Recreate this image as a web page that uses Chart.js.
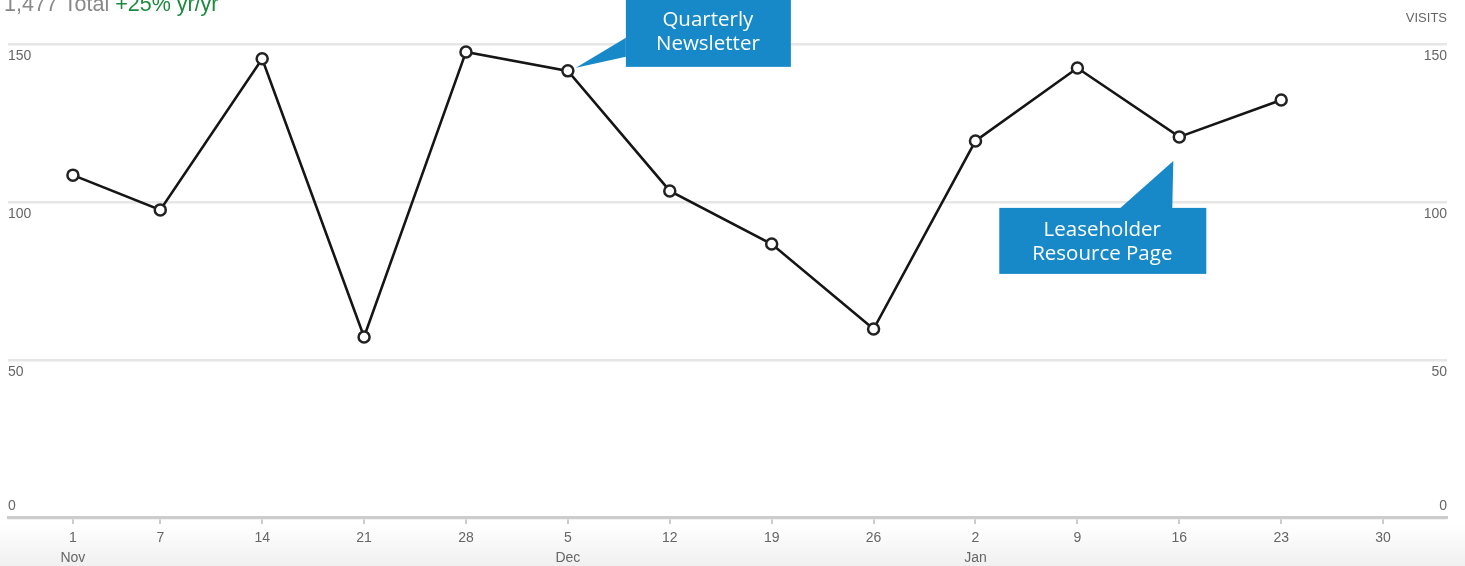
<!DOCTYPE html>
<html>
<head>
<meta charset="utf-8">
<title>Visits</title>
<script src="https://cdn.jsdelivr.net/npm/chart.js@4/dist/chart.umd.min.js"></script>
<style>
  html, body { margin: 0; padding: 0; }
  body {
    width: 1465px; height: 566px; overflow: hidden;
    background: linear-gradient(to bottom, #fff 0, #fff 525px, #f0f0f0 566px);
  }
  canvas { display: block; }
</style>
</head>
<body>
<canvas id="visitsChart" width="1465" height="566"></canvas>
<script>
// data (x = days since 1 Nov)
var dayOffsets = [0, 6, 13, 20, 27, 34, 41, 48, 55, 62, 69, 76, 83];
var visits = [108.5, 97.5, 145.3, 57.3, 147.5, 141.5, 103.5, 86.7, 59.8, 119.3, 142.4, 120.6, 132.3];

var tickDays = [0, 6, 13, 20, 27, 34, 41, 48, 55, 62, 69, 76, 83, 90];
var tickDayLabels = ['1', '7', '14', '21', '28', '5', '12', '19', '26', '2', '9', '16', '23', '30'];
var tickMonthLabels = ['Nov', '', '', '', '', 'Dec', '', '', '', 'Jan', '', '', '', ''];
var yTicks = [0, 50, 100, 150];

var totalLabel = '1,477 Total';
var changeLabel = '+25% yr/yr';
var axisTitle = 'VISITS';

var calloutIndexes = [5, 11];
var calloutTexts = [['Quarterly', 'Newsletter'], ['Leaseholder', 'Resource Page']];

var FONT = '"Liberation Sans", Arial, sans-serif';
var BLUE = '#1789c9';

// callout shapes, offsets relative to the anchored point
var calloutShapes = [
  { tip: [8, -3], base: [[58, -33], [58, -14]], box: [58, -80, 165, 76], text: [140, -51], lineGap: 24 },
  { tip: [-6, 24], base: [[-59, 71], [-7, 71]], box: [-180, 71, 207, 66], text: [-77, 93], lineGap: 24 }
];

var extrasPlugin = {
  id: 'extras',
  afterDatasetsDraw: function (chart) {
    var ctx = chart.ctx;
    var area = chart.chartArea;
    var yScale = chart.scales.y;
    ctx.save();

    // y labels on both sides, sitting under their grid line (0 sits above)
    ctx.font = '14px ' + FONT;
    ctx.fillStyle = '#666';
    ctx.textBaseline = 'middle';
    yScale.ticks.forEach(function (t) {
      var py = yScale.getPixelForValue(t.value);
      var y = t.value === 0 ? py - 12 : py + 12;
      ctx.textAlign = 'left';
      ctx.fillText(String(t.value), area.left, y);
      ctx.textAlign = 'right';
      ctx.fillText(String(t.value), area.right, y);
    });

    // header
    ctx.textBaseline = 'alphabetic';
    ctx.textAlign = 'left';
    ctx.font = '21.5px ' + FONT;
    ctx.fillStyle = '#888';
    ctx.fillText(totalLabel, 4, 11);
    var w = ctx.measureText(totalLabel + ' ').width;
    ctx.fillStyle = '#1b8a3e';
    ctx.fillText(changeLabel, 4 + w, 11);

    ctx.font = '13px ' + FONT;
    ctx.fillStyle = '#666';
    ctx.textAlign = 'right';
    ctx.fillText(axisTitle, area.right, 22);

    // callouts
    var meta = chart.getDatasetMeta(0);
    calloutIndexes.forEach(function (idx, n) {
      var pt = meta.data[idx];
      var s = calloutShapes[n];
      var px = pt.x, py = pt.y;
      ctx.fillStyle = BLUE;
      ctx.beginPath();
      ctx.moveTo(px + s.tip[0], py + s.tip[1]);
      ctx.lineTo(px + s.base[0][0], py + s.base[0][1]);
      ctx.lineTo(px + s.base[1][0], py + s.base[1][1]);
      ctx.closePath();
      ctx.fill();
      ctx.fillRect(px + s.box[0], py + s.box[1], s.box[2], s.box[3]);

      ctx.fillStyle = '#fff';
      ctx.font = '20.5px "Open Sans", sans-serif';
      ctx.textAlign = 'center';
      ctx.textBaseline = 'middle';
      calloutTexts[n].forEach(function (line, k) {
        ctx.fillText(line, px + s.text[0], py + s.text[1] + k * s.lineGap);
      });
    });

    ctx.restore();
  }
};

var ctx = document.getElementById('visitsChart').getContext('2d');

var visitsChart = new Chart(ctx, {
  type: 'line',
  data: {
    datasets: [{
      label: 'Visits',
      data: dayOffsets.map(function (d, i) { return { x: d, y: visits[i] }; }),
      borderColor: '#151515',
      borderWidth: 2.6,
      tension: 0,
      pointRadius: 5.5,
      pointBorderWidth: 2.5,
      pointBackgroundColor: '#fff',
      pointBorderColor: '#222'
    }]
  },
  options: {
    responsive: false,
    animation: false,
    layout: { padding: { left: 7, right: 18, top: 44, bottom: -6 } },
    plugins: {
      legend: { display: false },
      tooltip: { enabled: false }
    },
    scales: {
      x: {
        type: 'linear',
        min: -4.46,
        max: 94.39,
        afterBuildTicks: function (scale) {
          scale.ticks = tickDays.map(function (v) { return { value: v }; });
        },
        ticks: {
          autoSkip: false,
          maxRotation: 0,
          padding: 4,
          color: '#666',
          font: { family: FONT, size: 14, lineHeight: 1.43 },
          callback: function (value, index) {
            return tickMonthLabels[index] ? [tickDayLabels[index], tickMonthLabels[index]] : tickDayLabels[index];
          }
        },
        grid: { drawOnChartArea: false, drawTicks: true, tickLength: 6, color: '#ccc', lineWidth: 2 },
        border: { display: true, color: '#ccc', width: 3 }
      },
      y: {
        min: 0,
        max: 150,
        afterBuildTicks: function (scale) {
          scale.ticks = yTicks.map(function (v) { return { value: v }; });
        },
        ticks: { display: false },
        grid: { color: '#e6e6e6', lineWidth: 2.5, drawTicks: false },
        border: { display: false }
      }
    }
  },
  plugins: [extrasPlugin]
});
</script>
</body>
</html>
